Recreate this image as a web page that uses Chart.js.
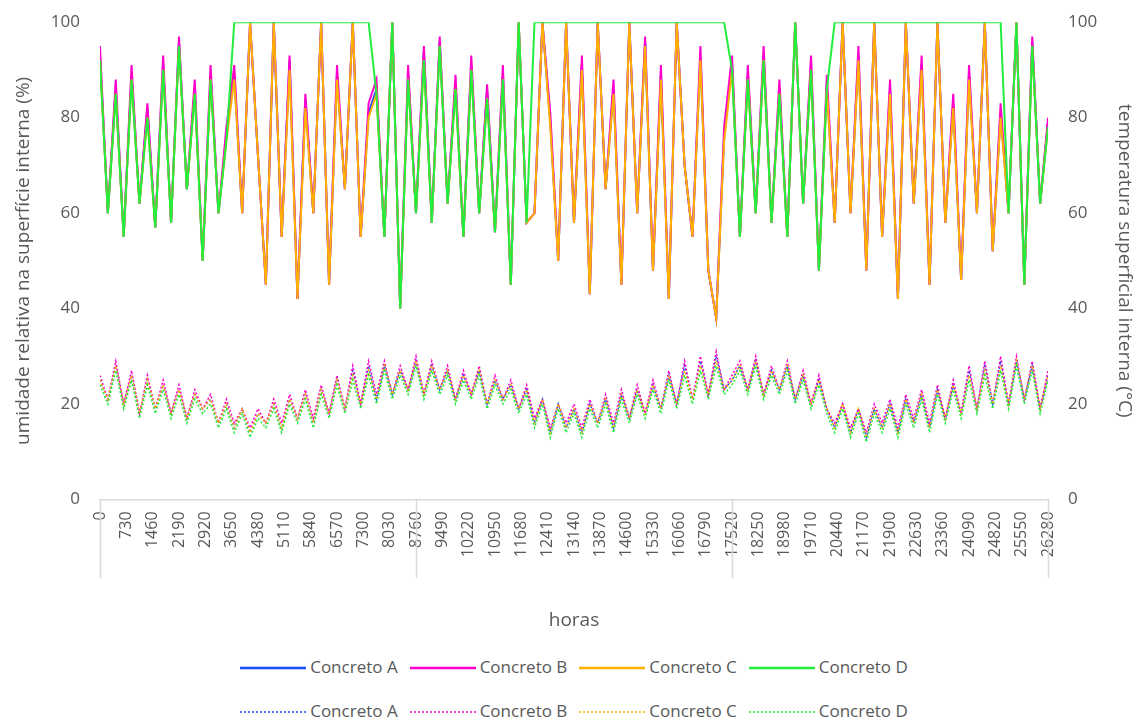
<!DOCTYPE html>
<html><head><meta charset="utf-8">
<script src="https://cdn.jsdelivr.net/npm/chart.js@4"></script>
<style>
body{margin:0;background:#fff;font-family:"Open Sans","Noto Sans",sans-serif;}
#wrap{position:relative;width:1148px;height:640px;}
.leg{position:absolute;left:0;width:1148px;text-align:center;font-size:17px;color:#595959;white-space:nowrap}
.leg span{display:inline-block;margin:0 6px;}
.leg svg{vertical-align:middle;margin-right:4px}
</style></head><body>
<div id="wrap"><canvas id="c"></canvas></div>
<div class="leg" id="l1" style="top:655px"></div>
<div class="leg" id="l2" style="top:699px"></div>
<script>
const step = 219;
const xTicks = Array.from({length:37},(_,i)=>i*730);
const separators = [0,8760,17520,26280];
const names = ["Concreto A","Concreto B","Concreto C","Concreto D"];
const colors = ["#1a4dff","#ff00cc","#ffb000","#22ee3c"];

const rhD = [92,60,85,55,88,62,80,57,90,58,95,65,85,50,88,60,75,
100,100,100,100,100,100,100,100,100,100,100,100,100,100,100,100,100,100,
85,55,100,40,88,60,92,58,95,62,86,55,90,60,84,56,88,45,100,58,
100,100,100,100,100,100,100,100,100,100,100,100,100,100,100,100,100,100,100,100,100,100,100,100,100,
90,55,88,60,92,58,85,55,100,62,90,48,86,
100,100,100,100,100,100,100,100,100,100,100,100,100,100,100,100,100,100,100,100,100,100,
60,100,45,95,62,78];
const rhC = [92,60,85,55,88,62,80,57,90,58,95,65,85,50,88,60,75,
88,60,100,72,45,100,55,90,42,82,60,100,45,88,65,100,55,80,
85,55,100,40,88,60,92,58,95,62,86,55,90,60,84,56,88,45,100,58,
60,100,78,50,100,58,90,43,100,65,85,45,100,60,95,48,88,42,100,70,55,92,48,38,75,
90,55,88,60,92,58,85,55,100,62,90,48,86,
58,100,60,92,48,100,55,85,42,100,62,90,45,100,58,82,46,88,60,100,52,80,
60,100,45,95,62,78];
const rhB = [95,60,88,55,91,62,83,57,93,58,97,65,88,50,91,60,78,
91,60,100,72,45,100,55,93,42,85,60,100,45,91,65,100,55,83,
88,55,100,40,91,60,95,58,97,62,89,55,93,60,87,56,91,45,100,58,
60,100,81,50,100,58,93,43,100,65,88,45,100,60,97,48,91,42,100,70,55,95,48,38,78,
93,55,91,60,95,58,88,55,100,62,93,48,89,
58,100,60,95,48,100,55,88,42,100,62,93,45,100,58,85,46,91,60,100,52,83,
60,100,45,97,62,80];
const rhA = [93,60,86,55,89,62,82,57,91,58,96,65,86,50,89,60,76,
89,60,100,72,45,100,55,92,42,84,60,100,45,89,65,100,55,81,
86,55,100,40,89,60,94,58,96,62,87,55,91,60,86,56,89,45,100,58,
60,100,79,50,100,58,91,43,100,65,86,45,100,60,96,48,89,42,100,70,55,93,48,38,76,
91,55,89,60,93,58,86,55,100,62,91,48,87,
58,100,60,93,48,100,55,86,42,100,62,91,45,100,58,83,46,89,60,100,52,81,
60,100,45,96,62,79];

const tD = [24,20,27,19,25,17,24,18,23,17,22,16,21,18,20,15,19,
14,18,13,17,15,19,14,20,16,21,15,22,17,24,18,25,19,26,
20,27,21,26,22,28,21,27,22,26,20,25,21,26,19,24,20,23,18,22,
15,20,13,19,14,18,13,19,15,20,14,21,16,22,17,23,18,25,19,26,20,27,21,28,22,
24,27,22,28,21,26,22,27,20,25,19,24,18,
14,19,13,18,12,18,14,19,13,20,15,21,14,22,16,23,17,25,18,26,19,27,
19,28,20,27,18,25];
const tC = [25,21,28,20,26,18,25,19,24,18,23,17,22,19,21,16,20,
15,19,14,18,16,20,15,21,17,22,16,23,18,25,19,26,20,27,
21,28,22,27,23,29,22,28,23,27,21,26,22,27,20,25,21,24,19,23,
16,21,14,20,15,19,14,20,16,21,15,22,17,23,18,24,19,26,20,27,21,28,22,29,23,
25,28,23,29,22,27,23,28,21,26,20,25,19,
15,20,14,19,13,19,15,20,14,21,16,22,15,23,17,24,18,26,19,27,20,28,
20,29,21,28,19,26];
const tB = [26,21,29,20,27,18,26,19,25,18,24,17,23,19,22,16,21,
16,19,15,19,16,21,16,22,17,23,17,24,18,26,19,28,20,29,
22,29,22,28,23,30,22,29,23,28,21,27,22,28,20,26,21,25,19,24,
17,21,15,20,16,20,15,21,16,22,16,23,17,24,18,25,19,27,20,29,21,30,22,31,23,
26,29,23,30,22,28,23,29,21,27,20,26,19,
16,20,15,19,14,20,16,21,15,22,17,23,16,24,17,25,18,28,19,29,20,30,
20,30,21,29,19,27];
const tA = [25,21,28,20,26,18,25,19,24,18,23,17,22,19,21,16,20,
15,19,14,18,16,20,15,21,17,22,16,23,18,25,19,27,20,28,
21,28,22,27,23,29,22,28,23,27,21,26,22,27,20,25,21,24,19,23,
16,21,14,20,15,19,14,20,16,21,15,22,17,23,18,24,19,26,20,28,21,29,22,30,23,
25,28,23,29,22,27,23,28,21,26,20,25,19,
15,20,14,19,13,19,15,20,14,21,16,22,15,23,17,24,18,27,19,28,20,29,
20,29,21,28,19,26];

const toPts = arr => arr.map((v,i)=>({x:i*step,y:v}));
const rh = [rhA,rhB,rhC,rhD], tt=[tA,tB,tC,tD];
const datasets=[];
rh.forEach((a,i)=>datasets.push({label:names[i],data:toPts(a),borderColor:colors[i],borderWidth:2,pointRadius:0,yAxisID:'y',order:3-i,tension:0}));
tt.forEach((a,i)=>datasets.push({label:names[i],data:toPts(a),borderColor:colors[i],borderWidth:1.5,borderDash:[2,2],pointRadius:0,yAxisID:'y2',order:7-i,tension:0}));

const sepPlugin={id:'sep',afterDraw(ch){const c=ch.ctx,xs=ch.scales.x,y0=ch.chartArea.bottom;c.save();c.strokeStyle='#d9d9d9';c.lineWidth=1.5;
separators.forEach(v=>{const px=Math.round(xs.getPixelForValue(v))+0.5;c.beginPath();c.moveTo(px,y0);c.lineTo(px,578);c.stroke();});c.restore();}};

const fc='#595959';
new Chart(document.getElementById('c'),{type:'line',data:{datasets},
options:{responsive:true,maintainAspectRatio:false,animation:false,
layout:{padding:{top:14,right:8,left:8,bottom:0}},
plugins:{legend:{display:false},tooltip:{enabled:false}},
scales:{
x:{type:'linear',min:0,max:26280,afterBuildTicks:s=>{s.ticks=xTicks.map(v=>({value:v}));},
ticks:{autoSkip:false,maxRotation:90,minRotation:90,color:fc,font:{size:16,family:'Open Sans'},padding:4,callback:v=>String(v)},
grid:{display:false},border:{color:'#d9d9d9',width:1.5},
title:{display:true,text:'horas',color:fc,font:{size:19,family:'Open Sans'},padding:{top:48,bottom:8}}},
y:{min:0,max:100,ticks:{stepSize:20,color:fc,font:{size:17,family:'Open Sans'},padding:12},grid:{display:false},border:{display:false},
title:{display:true,text:'umidade relativa na superfície interna (%)',color:fc,font:{size:19,family:'Open Sans'}}},
y2:{position:'right',min:0,max:100,ticks:{stepSize:20,color:fc,font:{size:17,family:'Open Sans'},padding:12},grid:{display:false},border:{display:false},
title:{display:true,text:'temperatura superficial interna (°C)',color:fc,font:{size:19,family:'Open Sans'}}}
}},plugins:[sepPlugin]});

function leg(id,dash){document.getElementById(id).innerHTML=names.map((n,i)=>
`<span><svg width="66" height="6"><line x1="0" y1="3" x2="66" y2="3" stroke="${colors[i]}" stroke-width="${dash?1.5:2.5}" ${dash?'stroke-dasharray="2,2"':''}/></svg>${n}</span>`).join('');}
leg('l1',false);leg('l2',true);
</script></body></html>
